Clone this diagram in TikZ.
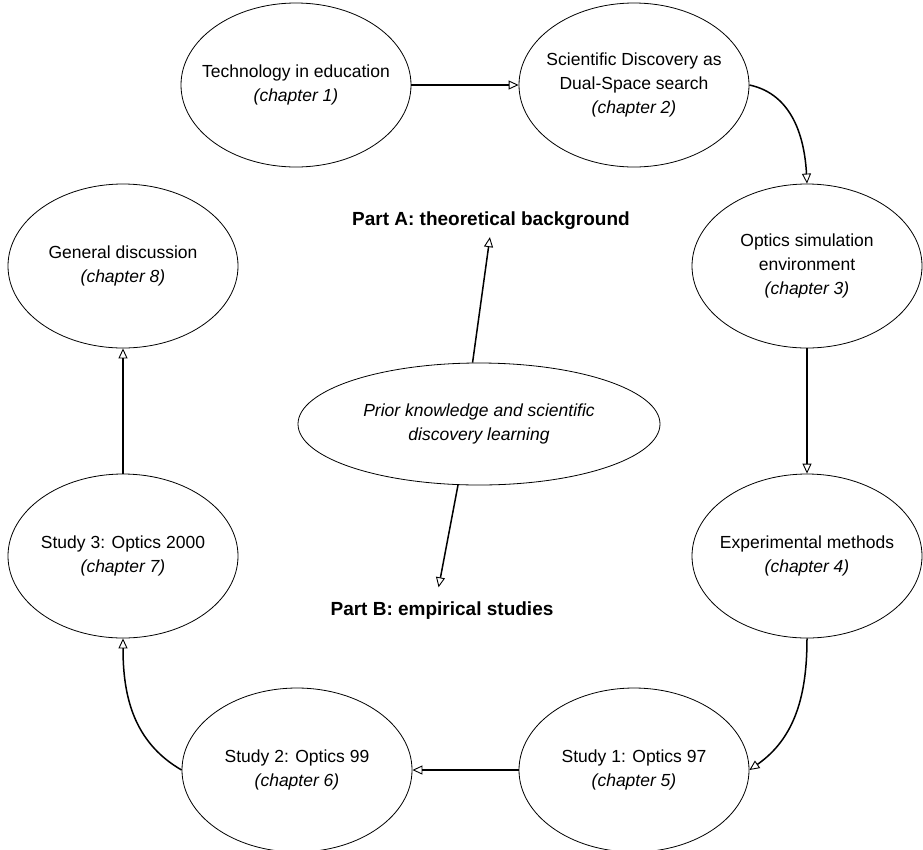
\documentclass[tikz,border=0pt]{standalone}
\usepackage{fontspec}
\setmainfont{Liberation Sans}
\usetikzlibrary{shapes.geometric,arrows.meta}
\begin{document}
\begin{tikzpicture}[x=1pt,y=1pt,
  chap/.style={ellipse, draw, line width=0.8pt, minimum width=230pt, minimum height=164pt, inner sep=0pt},
  txt/.style={align=center, font=\fontsize{17.5}{24}\selectfont},
  part/.style={font=\bfseries\fontsize{19}{23}\selectfont, inner sep=0pt},
  conn/.style={line width=1.5pt, -{Triangle[open, length=10pt, width=9pt, line width=0.9pt]}}
]
\useasboundingbox (0,0) rectangle (923,-849);

\node[chap, label={[txt]center:Technology in education\\\textit{(chapter 1)}}] (E1) at (296,-85) {};
\node[chap, label={[txt]center:Scientific Discovery as\\Dual-Space search\\\textit{(chapter 2)}}] (E2) at (634,-85) {};
\node[chap, label={[txt]center:Optics simulation\\environment\\\textit{(chapter 3)}}] (E3) at (807,-266) {};
\node[chap, label={[txt]center:Experimental methods\\\textit{(chapter 4)}}] (E4) at (807,-556) {};
\node[chap, label={[txt]center:Study 1: Optics 97\\\textit{(chapter 5)}}] (E5) at (634,-770) {};
\node[chap, label={[txt]center:Study 2: Optics 99\\\textit{(chapter 6)}}] (E6) at (297,-770) {};
\node[chap, label={[txt]center:Study 3: Optics 2000\\\textit{(chapter 7)}}] (E7) at (123,-556) {};
\node[chap, label={[txt]center:General discussion\\\textit{(chapter 8)}}] (E8) at (123,-266) {};

\node[ellipse, draw, line width=0.8pt, minimum width=362pt, minimum height=122pt, inner sep=0pt,
  label={[txt]center:\textit{Prior knowledge and scientific}\\\textit{discovery learning}}] (P) at (479,-424) {};

\node[part, anchor=base] (A) at (491,-225) {Part A: theoretical background};
\node[part, anchor=base] (B) at (442,-615) {Part B: empirical studies};

\draw[conn] (E1) -- (E2);
\draw[conn] (E2.east) to[out=-12,in=93] (E3.north);
\draw[conn] (E3) -- (E4);
\draw[conn] (E4.south) to[out=-90,in=35] (E5.east);
\draw[conn] (E5) -- (E6);
\draw[conn] (E6.west) to[out=150,in=-90] (E7.south);
\draw[conn] (E7) -- (E8);
\draw[conn, shorten >=8pt] (P.96) -- (A.south);
\draw[conn, shorten >=14pt] (P.251) -- ([xshift=-6pt]B.north);
\end{tikzpicture}
\end{document}
